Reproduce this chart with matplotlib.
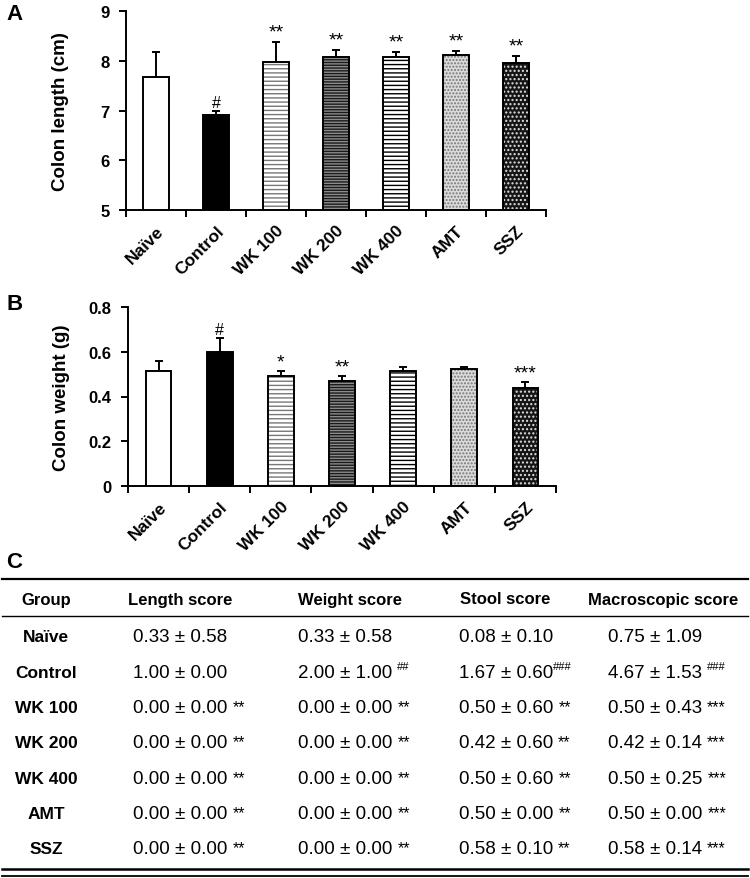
import numpy as np
import matplotlib
matplotlib.use("Agg")
import matplotlib.pyplot as plt
from matplotlib.lines import Line2D

plt.rcParams['font.family'] = ['Liberation Sans', 'DejaVu Sans']
plt.rcParams['hatch.linewidth'] = 1.0

# ---- data ----
groups = ['Naïve', 'Control', 'WK 100', 'WK 200', 'WK 400', 'AMT', 'SSZ']

length_mean = [7.67, 6.90, 7.97, 8.08, 8.08, 8.12, 7.95]
length_err = [0.50, 0.10, 0.41, 0.14, 0.10, 0.08, 0.15]
length_sig = ['', '#', '**', '**', '**', '**', '**']

weight_mean = [0.515, 0.600, 0.490, 0.468, 0.515, 0.522, 0.437]
weight_err = [0.042, 0.062, 0.025, 0.022, 0.017, 0.010, 0.027]
weight_sig = ['', '#', '*', '**', '', '', '***']

# table (panel C)
col_headers = ['Group', 'Length score', 'Weight score', 'Stool score', 'Macroscopic score']
length_score = ['0.33 ± 0.58', '1.00 ± 0.00', '0.00 ± 0.00', '0.00 ± 0.00', '0.00 ± 0.00', '0.00 ± 0.00', '0.00 ± 0.00']
length_score_sig = ['', '', '**', '**', '**', '**', '**']
weight_score = ['0.33 ± 0.58', '2.00 ± 1.00', '0.00 ± 0.00', '0.00 ± 0.00', '0.00 ± 0.00', '0.00 ± 0.00', '0.00 ± 0.00']
weight_score_sig = ['', '##', '**', '**', '**', '**', '**']
stool_score = ['0.08 ± 0.10', '1.67 ± 0.60', '0.50 ± 0.60', '0.42 ± 0.60', '0.50 ± 0.60', '0.50 ± 0.00', '0.58 ± 0.10']
stool_score_sig = ['', '###', '**', '**', '**', '**', '**']
macro_score = ['0.75 ± 1.09', '4.67 ± 1.53', '0.50 ± 0.43', '0.42 ± 0.14', '0.50 ± 0.25', '0.50 ± 0.00', '0.58 ± 0.14']
macro_score_sig = ['', '###', '***', '***', '***', '***', '***']

# bar styles: (face, hatch, hatch colour)
styles = [
    ('white', None, 'black'),
    ('black', None, 'black'),
    ('white', '----', '#777777'),
    ('#8c8c8c', '------', '#1a1a1a'),
    ('white', '----', 'black'),
    ('#dcdcdc', '.....', '#777777'),
    ('#151515', '....', '#e0e0e0'),
]

W, H = 750, 879


def fx(px):
    return px / W


def fy(py):
    return 1 - py / H


def bar_panel(ax, means, errs, sigs, ylim, yticks, ylabel, sig_off):
    x = np.arange(len(groups))
    for i in range(len(groups)):
        face, hatch, hc = styles[i]
        ax.bar(x[i], means[i], 0.42, color=face, hatch=hatch, edgecolor=hc,
               linewidth=0, zorder=2)
        ax.bar(x[i], means[i], 0.42, fill=False, edgecolor='black',
               linewidth=1.4, zorder=3)
    ax.errorbar(x, means, yerr=[np.zeros(len(means)), errs], fmt='none',
                ecolor='black', elinewidth=1.4, capsize=3, capthick=1.4, zorder=1)
    for i in range(len(groups)):
        if sigs[i]:
            fs = 11.5 if sigs[i].startswith('#') else 14
            ax.text(x[i], means[i] + errs[i] + sig_off, sigs[i], ha='center',
                    va='bottom', fontsize=fs)
    ax.set_xlim(-0.5, len(groups) - 0.5)
    ax.set_ylim(*ylim)
    ax.set_yticks(yticks)
    ax.set_yticklabels([('%g' % t) for t in yticks], fontsize=12, fontweight='bold')
    ax.set_xticks(np.arange(len(groups) + 1) - 0.5)
    ax.set_xticklabels([])
    ax.set_xticks(x, minor=True)
    ax.set_xticklabels(groups, minor=True, rotation=45, ha='right',
                       rotation_mode='anchor', fontsize=12.5, fontweight='bold')
    ax.tick_params(axis='x', which='minor', length=0, pad=9)
    ax.tick_params(axis='x', which='major', length=5, width=1.4, direction='out')
    ax.tick_params(axis='y', length=5, width=1.4, direction='out', pad=7)
    for s in ['top', 'right']:
        ax.spines[s].set_visible(False)
    for s in ['left', 'bottom']:
        ax.spines[s].set_linewidth(1.4)
    ax.set_ylabel(ylabel, fontsize=13.5, fontweight='bold', labelpad=8)


fig = plt.figure(figsize=(7.5, 8.79), dpi=100)

ax1 = fig.add_axes([fx(126), fy(211), (546 - 126) / W, (211 - 12) / H])
bar_panel(ax1, length_mean, length_err, length_sig, (5, 9), [5, 6, 7, 8, 9],
          'Colon length (cm)', 0.02)
ax1.yaxis.set_label_coords(-0.135, 0.5)

ax2 = fig.add_axes([fx(128), fy(487), (556 - 128) / W, (487 - 308) / H])
bar_panel(ax2, weight_mean, weight_err, weight_sig, (0, 0.8), [0, 0.2, 0.4, 0.6, 0.8],
          'Colon weight (g)', 0.003)
ax2.yaxis.set_label_coords(-0.135, 0.5)

fig.text(fx(6), fy(15), 'A', fontsize=16, fontweight='bold', va='center')
fig.text(fx(6), fy(305), 'B', fontsize=16, fontweight='bold', va='center')
fig.text(fx(6), fy(562), 'C', fontsize=16, fontweight='bold', va='center')

# ---- table ----
fig.add_artist(Line2D([fx(2), fx(748)], [fy(580), fy(580)], color='black', lw=1.6))
fig.add_artist(Line2D([fx(2), fx(748)], [fy(617), fy(617)], color='black', lw=1.0))
fig.add_artist(Line2D([fx(2), fx(748)], [fy(870), fy(870)], color='black', lw=1.8))
fig.add_artist(Line2D([fx(2), fx(748)], [fy(876.5), fy(876.5)], color='black', lw=1.3))

header_x = [46, 128, 298, 460, 588]
header_ha = ['center', 'left', 'left', 'left', 'left']
for hx, ha, txt in zip(header_x, header_ha, col_headers):
    fig.text(fx(hx), fy(600), txt, ha=ha, va='center', fontsize=12, fontweight='bold')

row_y = [638 + 35.3 * i for i in range(len(groups))]
value_cols = [(133, length_score, length_score_sig),
              (298, weight_score, weight_score_sig),
              (459, stool_score, stool_score_sig),
              (608, macro_score, macro_score_sig)]

renderer = fig.canvas.get_renderer()
for i, g in enumerate(groups):
    fig.text(fx(46), fy(row_y[i]), g, ha='center', va='center', fontsize=12.5,
             fontweight='bold')
    for cx, vals, sigs in value_cols:
        t = fig.text(fx(cx), fy(row_y[i]), vals[i], ha='left', va='center', fontsize=13.5)
        if sigs[i]:
            bb = t.get_window_extent(renderer=renderer)
            gap = 0 if (vals is stool_score and sigs[i].startswith('#')) else 5
            if sigs[i].startswith('#'):
                fig.text(fx(bb.x1 + gap), fy(row_y[i] - 6), sigs[i], ha='left',
                         va='center', fontsize=8)
            else:
                fig.text(fx(bb.x1 + gap), fy(row_y[i] - 1), sigs[i], ha='left',
                         va='center', fontsize=11.5)

fig.savefig('out.png', dpi=100)
